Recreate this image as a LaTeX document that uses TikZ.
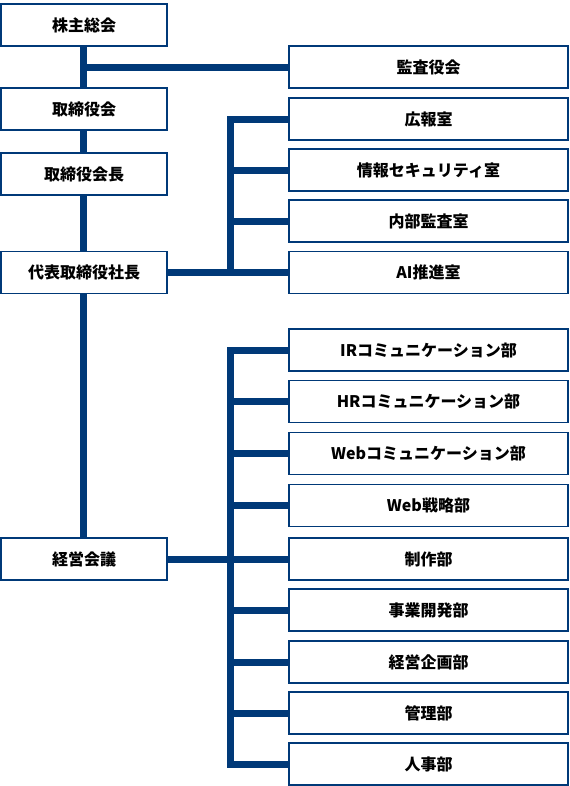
\documentclass[tikz,border=0pt]{standalone}
\usepackage{fontspec}
\setmainfont{Noto Sans CJK JP}
\usepackage{tikz}
\usetikzlibrary{positioning, calc}

\definecolor{navy}{RGB}{0,57,120}

\begin{document}
\begin{tikzpicture}[
x=0.75pt, y=-0.75pt,
org_box/.style={rectangle, draw=navy, line width=0.8pt, fill=white, font=\bfseries\fontsize{12}{14}\selectfont, inner sep=0pt},
left_box/.style={org_box, minimum width=124.5pt, minimum height=31.5pt},
right_box/.style={org_box, minimum width=209.25pt, minimum height=31.5pt},
link/.style={draw=navy, line width=5.25pt}
]
\useasboundingbox (0,0) rectangle (570,786);

% Left column
\node[left_box] (kabunushi) at (84,25) {株主総会};
\node[left_box] (torikai) at (84,109) {取締役会};
\node[left_box] (kaicho) at (84,174) {取締役会長};
\node[left_box] (shacho) at (84,272.5) {代表取締役社長};
\node[left_box] (keiei) at (84,559) {経営会議};

% Audit
\node[right_box] (kansa) at (428.5,67) {監査役会};

% Staff offices
\node[right_box] (kouhou) at (428.5,119) {広報室};
\node[right_box] (security) at (428.5,170) {情報セキュリティ室};
\node[right_box] (naibu) at (428.5,221) {内部監査室};
\node[right_box] (ai) at (428.5,272.5) {AI推進室};

% Departments
\node[right_box] (ir) at (428.5,350) {IRコミュニケーション部};
\node[right_box] (hr) at (428.5,401.5) {HRコミュニケーション部};
\node[right_box] (webcom) at (428.5,453.5) {Webコミュニケーション部};
\node[right_box] (websen) at (428.5,505.5) {Web戦略部};
\node[right_box] (seisaku) at (428.5,559) {制作部};
\node[right_box] (jigyou) at (428.5,610) {事業開発部};
\node[right_box] (kikaku) at (428.5,662) {経営企画部};
\node[right_box] (kanri) at (428.5,713) {管理部};
\node[right_box] (jinji) at (428.5,764) {人事部};

\coordinate (trunk) at (83.5,0);
\coordinate (bus) at (230.5,0);

% Main line
\draw[link] (kabunushi.south -| trunk) -- (torikai.north -| trunk);
\draw[link] (torikai.south -| trunk) -- (kaicho.north -| trunk);
\draw[link] (kaicho.south -| trunk) -- (shacho.north -| trunk);
\draw[link] (shacho.south -| trunk) -- (keiei.north -| trunk);
\draw[link] (kansa.west) -- (kansa.west -| trunk);

% Upper bracket
\draw[link] (kouhou.west) -| (bus |- ai.west);
\draw[link] (security.west) -- (security.west -| bus);
\draw[link] (naibu.west) -- (naibu.west -| bus);
\draw[link] (shacho.east) -- (ai.west);

% Lower bracket
\draw[link] (ir.west) -| (bus |- jinji.west) -- (jinji.west);
\foreach \d in {hr, webcom, websen, jigyou, kikaku, kanri}
  \draw[link] (\d.west) -- (\d.west -| bus);
\draw[link] (keiei.east) -- (seisaku.west);
\end{tikzpicture}
\end{document}
